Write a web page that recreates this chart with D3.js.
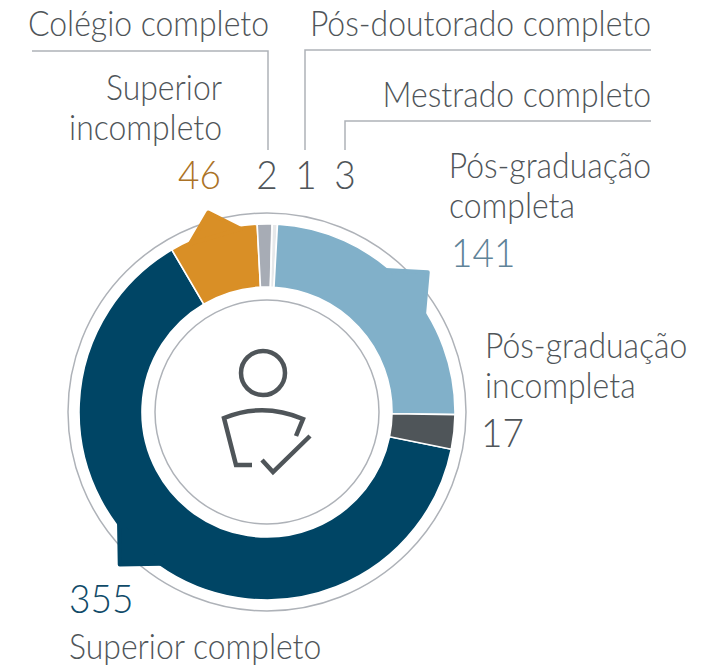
<!DOCTYPE html>
<html><head><meta charset="utf-8">
<script src="https://cdnjs.cloudflare.com/ajax/libs/d3/7.8.5/d3.min.js"></script>
<style>html,body{margin:0;background:#fff}svg{display:block}text{font-family:Lato,sans-serif;font-weight:300}</style>
</head><body><svg id="c" width="713" height="666"></svg>
<script>
const categories=["Superior completo","Superior incompleto","Colégio completo","Pós-doutorado completo","Mestrado completo","Pós-graduação completa","Pós-graduação incompleta"];
const values=[355,46,2,1,3,141,17];
// arc spans (degrees): the small slices are drawn wider than their share
const arcSpans=[228.2,27.4,4.5,0.1,1.6,87.6,10.6];
const colors=["#004565","#d98f26","#a7acb5","#a7acb5","#e6e8ea","#81b0c9","#4f5559"];
const textColors=["#0f4a68","#ab7226","#4f5559","#4f5559","#4f5559","#5f8398","#4f5559"];
const cx=267,cy=412,R=188,r0=125;
const svg=d3.select("#c");
const g=svg.append("g").attr("transform",`translate(${cx},${cy})`);
g.append("circle").attr("r",199).attr("fill","none").attr("stroke","#aeb2b8").attr("stroke-width",1.5);
g.append("circle").attr("r",112).attr("fill","none").attr("stroke","#aeb2b8").attr("stroke-width",1.5);
const rad=d=>d*Math.PI/180;
const pie=d3.pie().sort(null).value(d=>d).startAngle(rad(101.4)).endAngle(rad(461.4));
const arcs=pie(arcSpans);
const arc=d3.arc().innerRadius(r0).outerRadius(R);
const P=(a,r)=>d3.pointRadial(rad(a),r);
g.selectAll("path.slice").data(arcs).join("path").attr("class","slice").attr("d",arc).attr("fill",(d,i)=>colors[i]).attr("stroke",(d,i)=>(i===3?"none":"#fff")).attr("stroke-width",1.6);
const bumps=[{i:0,a:224,h:9.1,r:212},{i:1,a:-16.4,h:8.2,r:208},{i:5,a:49,h:9.1,r:213}];
bumps.forEach(b=>{
  g.append("path").attr("d",d3.line()([P(b.a-b.h,R-3),P(b.a,b.r),P(b.a+b.h,R-3)])+"Z").attr("fill",colors[b.i]).attr("stroke",colors[b.i]).attr("stroke-width",4).attr("stroke-linejoin","round");
});
const ic=svg.append("g").attr("fill","none").attr("stroke","#4f5559").attr("stroke-width",4.5);
ic.append("circle").attr("cx",263).attr("cy",373).attr("r",22);
ic.append("path").attr("d","M296 436 L303 419 Q263 402 224 418 L236 465 L252 465");
ic.append("path").attr("d","M262 460 L273 472 L310 436");
const labels=[
 ["Colégio completo",269,36,"end",2],
 ["Pós-doutorado completo",651,36,"end",3],
 ["Superior",222,100,"end",1],["incompleto",222,140,"end",1],
 ["Mestrado completo",651,107,"end",4],
 ["Pós-graduação",651,178,"end",5],["completa",449,218,"start",5],
 ["Pós-graduação",485,358,"start",6],["incompleta",485,398,"start",6],
 ["Superior completo",69,659,"start",0]];
svg.selectAll("text.l").data(labels).join("text").attr("class","l")
 .attr("transform",d=>`translate(${d[1]},${d[2]}) scale(.926,1)`).attr("text-anchor",d=>d[3]).attr("fill","#4f5559").style("font-size","34.5px").text(d=>d[0]);
const nums=[[1,221,189,"end"],[2,267,189,"middle"],[3,306,189,"middle"],[4,345,189,"middle"],[5,451,267,"start"],[6,481,447,"start"],[0,69,613,"start"]];
svg.selectAll("text.n").data(nums).join("text").attr("class","n")
 .attr("transform",d=>`translate(${d[1]},${d[2]}) scale(.926,1)`).attr("text-anchor",d=>d[3]).attr("fill",d=>textColors[d[0]]).style("font-size","40px").text(d=>values[d[0]]);
const lead=[[[32,51],[268,51],[268,150]],[[651,50],[305,50],[305,150]],[[651,121],[345,121],[345,150]]];
lead.forEach(l=>svg.append("path").attr("d",d3.line()(l)).attr("fill","none").attr("stroke","#aeb2b8").attr("stroke-width",1.5));
</script></body></html>
